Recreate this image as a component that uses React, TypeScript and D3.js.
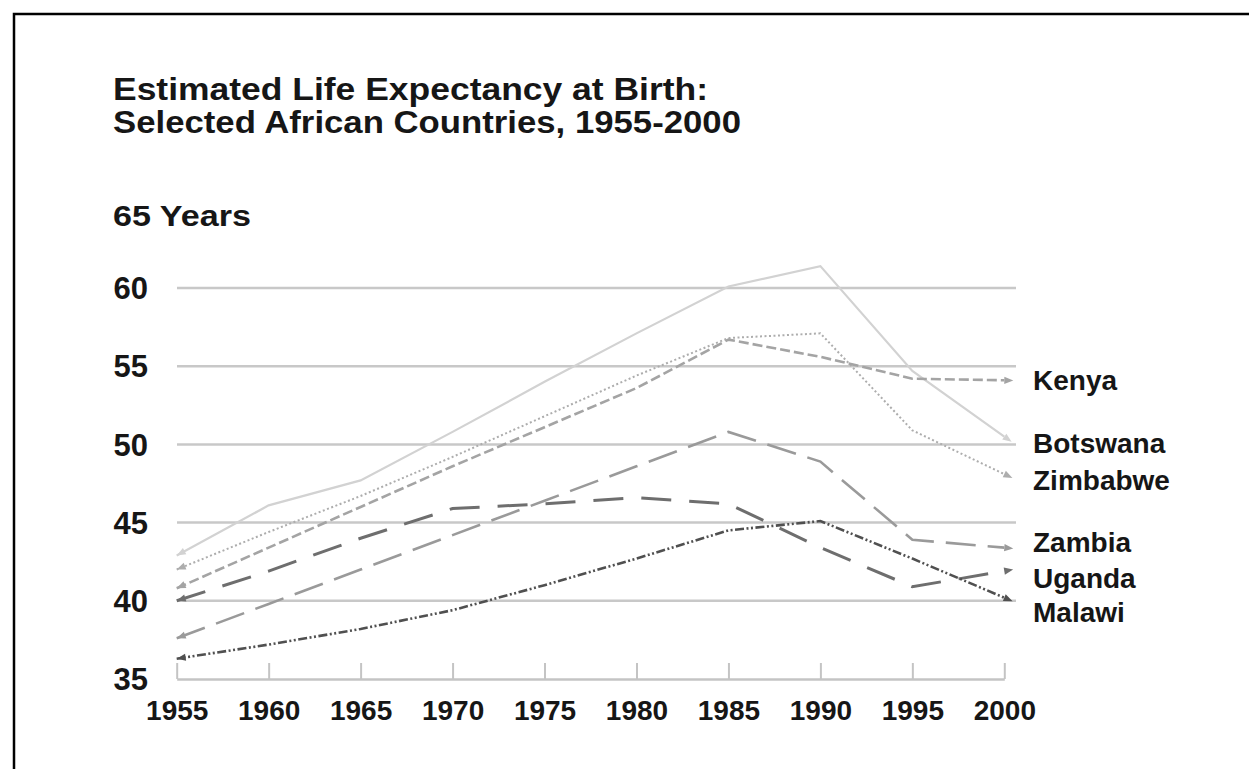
import React, { useEffect, useRef } from "react";
import * as d3 from "d3";

const years = [1955, 1960, 1965, 1970, 1975, 1980, 1985, 1990, 1995, 2000];
const yTicks = [35, 40, 45, 50, 55, 60];

const botswana = [42.9, 46.1, 47.7, 50.8, 54.0, 57.1, 60.1, 61.4, 54.7, 50.5];
const zimbabwe = [42.0, 44.4, 46.7, 49.2, 51.8, 54.4, 56.8, 57.1, 50.9, 48.1];
const kenya = [40.8, 43.4, 46.0, 48.6, 51.1, 53.6, 56.7, 55.6, 54.2, 54.1];
const zambia = [37.6, 39.8, 42.0, 44.2, 46.4, 48.6, 50.8, 48.9, 43.9, 43.4];
const uganda = [40.0, 41.9, 44.0, 45.9, 46.2, 46.6, 46.2, 43.4, 40.9, 41.9];
const malawi = [36.3, 37.2, 38.2, 39.4, 41.0, 42.7, 44.5, 45.1, 42.7, 40.2];

const countries = ["Botswana", "Zimbabwe", "Kenya", "Zambia", "Uganda", "Malawi"];
const seriesValues = [botswana, zimbabwe, kenya, zambia, uganda, malawi];

// label positions (px) so the end labels don't collide
const labelY: Record<string, number> = {
  Kenya: 380,
  Botswana: 443,
  Zimbabwe: 480,
  Zambia: 542,
  Uganda: 578,
  Malawi: 612,
};

const styles = [
  { color: "#d2d2d2", width: 2.2, dash: "none" },
  { color: "#adadad", width: 2, dash: "2,2.5" },
  { color: "#a4a4a4", width: 2.6, dash: "10,4" },
  { color: "#9a9a9a", width: 2.6, dash: "30,12" },
  { color: "#6e6e6e", width: 3, dash: "30,18" },
  { color: "#505050", width: 2.6, dash: "9,2.5,2,2.5,2,2.5" },
];

const FONT = "'Liberation Sans', Arial, Helvetica, sans-serif";

export default function App() {
  const axisRef = useRef<SVGGElement>(null);

  const x = d3.scaleLinear().domain([1955, 2000]).range([176.7, 1004.3]);
  const y = d3.scaleLinear().domain([35, 60]).range([679, 288]);

  useEffect(() => {
    const g = d3.select(axisRef.current);
    const axis = d3
      .axisBottom(x)
      .tickValues(years)
      .tickFormat((d) => String(d))
      .tickSize(-16)
      .tickSizeOuter(0)
      .tickPadding(21);
    g.call(axis as any);
    g.select(".domain").attr("stroke", "#c4c4c4").attr("stroke-width", 2.5);
    g.selectAll(".tick line").attr("stroke", "#c4c4c4").attr("stroke-width", 2);
    g.selectAll(".tick text")
      .attr("fill", "#161616")
      .attr("font-family", FONT)
      .attr("font-weight", "bold")
      .attr("font-size", 28);
  }, []);

  const line = d3
    .line<number>()
    .x((_, i) => x(years[i]))
    .y((d) => y(d));

  return (
    <svg
      width={1249}
      height={769}
      style={{ position: "fixed", left: 0, top: 0, background: "#fff" }}
    >
      <defs>
        {styles.map((s, i) => (
          <React.Fragment key={i}>
            <marker
              id={`start-${i}`}
              viewBox="0 -5 10 10"
              refX={10}
              refY={0}
              markerWidth={11}
              markerHeight={9}
              markerUnits="userSpaceOnUse"
              orient="auto-start-reverse"
            >
              <path d="M0,-4L10,0L0,4Z" fill={s.color} />
            </marker>
            <marker
              id={`end-${i}`}
              viewBox="0 -5 10 10"
              refX={0}
              refY={0}
              markerWidth={11}
              markerHeight={9}
              markerUnits="userSpaceOnUse"
              orient="auto"
            >
              <path d="M0,-4L10,0L0,4Z" fill={s.color} />
            </marker>
          </React.Fragment>
        ))}
      </defs>

      {/* frame */}
      <path d="M14,769V14H1249" fill="none" stroke="#000" strokeWidth={2.5} />

      {/* title */}
      <text x={113} y={100} fontFamily={FONT} fontWeight="bold" fontSize={31} fill="#161616" textLength={595} lengthAdjust="spacingAndGlyphs">
        Estimated Life Expectancy at Birth:
      </text>
      <text x={113} y={133} fontFamily={FONT} fontWeight="bold" fontSize={31} fill="#161616" textLength={628} lengthAdjust="spacingAndGlyphs">
        Selected African Countries, 1955-2000
      </text>

      <text x={113} y={226} fontFamily={FONT} fontWeight="bold" fontSize={30} fill="#161616" textLength={138} lengthAdjust="spacingAndGlyphs">
        65 Years
      </text>

      {/* grid */}
      {yTicks.filter((t) => t > 35).map((t) => (
        <line key={t} x1={177} x2={1016} y1={y(t)} y2={y(t)} stroke="#c8c8c8" strokeWidth={2.5} />
      ))}
      {yTicks.map((t) => (
        <text
          key={t}
          x={148}
          y={y(t)}
          dy="0.36em"
          textAnchor="end"
          fontFamily={FONT}
          fontWeight="bold"
          fontSize={31}
          fill="#161616"
        >
          {t}
        </text>
      ))}

      <g ref={axisRef} transform={`translate(0,${y(35)})`} />

      {seriesValues.map((vals, i) => (
        <path
          key={countries[i]}
          d={line(vals) || ""}
          fill="none"
          stroke={styles[i].color}
          strokeWidth={styles[i].width}
          strokeDasharray={styles[i].dash}
          markerStart={`url(#start-${i})`}
          markerEnd={`url(#end-${i})`}
        />
      ))}

      {countries.map((c) => (
        <text
          key={c}
          x={1033}
          y={labelY[c]}
          dy="0.36em"
          fontFamily={FONT}
          fontWeight="bold"
          fontSize={28}
          fill="#161616"
        >
          {c}
        </text>
      ))}
    </svg>
  );
}
